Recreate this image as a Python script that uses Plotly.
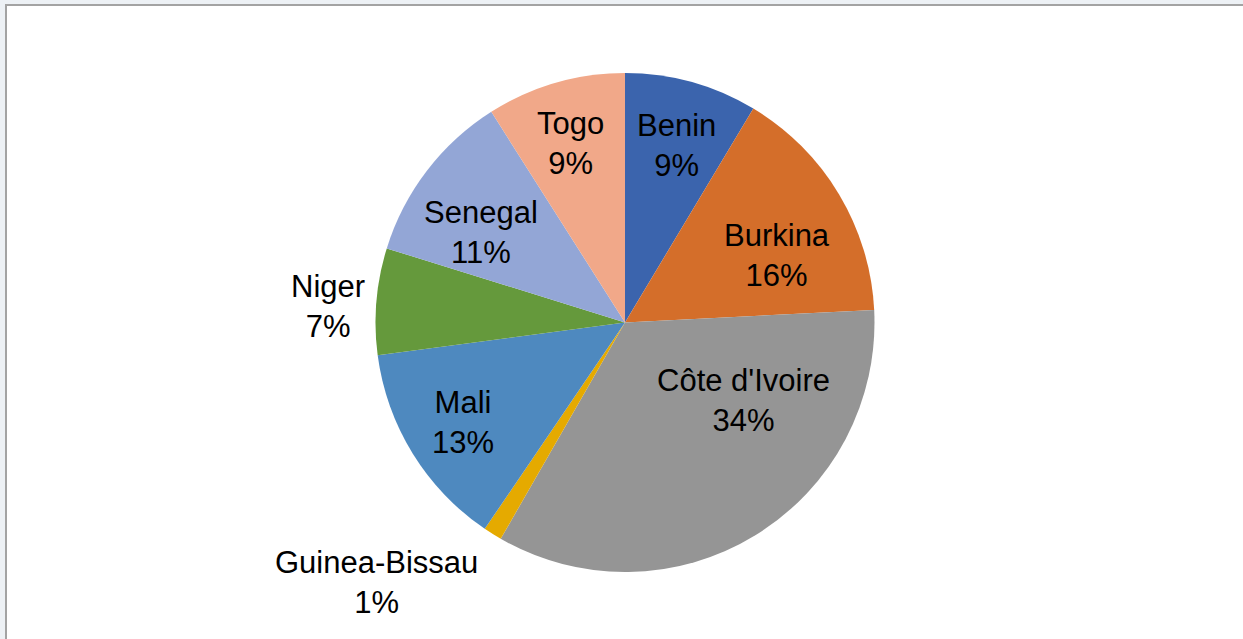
import plotly.graph_objects as go

W, H = 1243, 639

countries = ["Benin", "Burkina", "Côte d'Ivoire", "Guinea-Bissau", "Mali", "Niger", "Senegal", "Togo"]
shares = [8.6, 15.6, 34.1, 1.2, 13.4, 6.9, 11.2, 9.0]
pct_labels = ["9%", "16%", "34%", "1%", "13%", "7%", "11%", "9%"]
colors = ["#3B64AD", "#D46E2A", "#959595", "#E5AA00", "#4E89BF", "#65993C", "#93A6D6", "#F1A889"]

# label centres in pixels (text placement)
label_px = [(676, 146), (777, 255), (743, 400), (376, 582), (463, 422), (328, 306), (481, 233), (570, 143)]

cx, cy, R = 625, 322.5, 249.5

fig = go.Figure()
fig.add_trace(go.Pie(
    labels=countries,
    values=shares,
    sort=False,
    direction="clockwise",
    rotation=0,
    textinfo="none",
    hoverinfo="label+percent",
    marker=dict(colors=colors, line=dict(width=0)),
    showlegend=False,
    domain=dict(x=[(cx - R) / W, (cx + R) / W], y=[1 - (cy + R) / H, 1 - (cy - R) / H]),
))

annotations = []
for name, pct, (px, py) in zip(countries, pct_labels, label_px):
    annotations.append(dict(
        text=f"{name}<br>{pct}",
        x=px / W, y=1 - py / H, xref="paper", yref="paper",
        xanchor="center", yanchor="middle", showarrow=False,
        font=dict(family="Liberation Sans, Arial, sans-serif", size=31, color="#000000"),
    ))

fig.update_layout(
    width=W, height=H,
    margin=dict(l=0, r=0, t=0, b=0),
    paper_bgcolor="#EDF1F5",
    plot_bgcolor="white",
    annotations=annotations,
    shapes=[dict(type="rect", xref="paper", yref="paper",
                 x0=6 / W, x1=1.05, y0=-0.05, y1=1 - 5 / H,
                 fillcolor="white", line=dict(color="#A3A3A3", width=2), layer="below")],
)

fig.write_html("out.html", config={"displayModeBar": False},
               post_script="document.body.style.margin='0';document.body.style.overflow='hidden';")
